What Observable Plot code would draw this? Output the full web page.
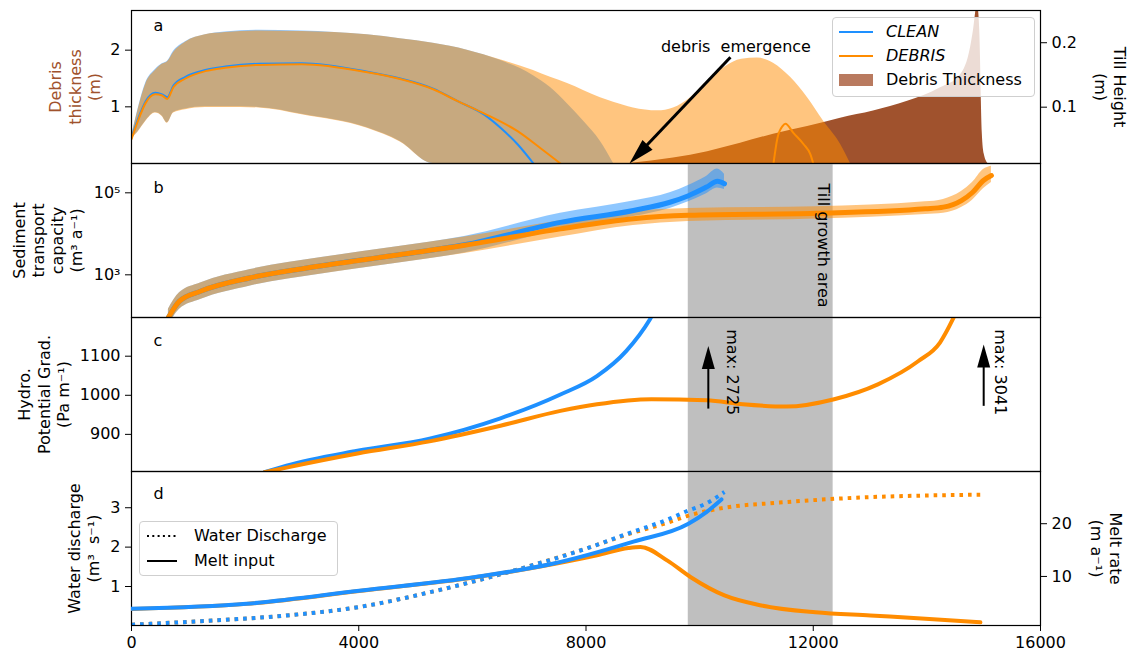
<!DOCTYPE html>
<html><head><meta charset="utf-8">
<script src="https://cdn.jsdelivr.net/npm/d3@7"></script>
<script src="https://cdn.jsdelivr.net/npm/@observablehq/plot@0.6"></script>
<style>
body{margin:0;background:#fff;font-family:"DejaVu Sans",sans-serif;}
#fig{position:relative;width:1132px;height:655px;overflow:hidden;background:#fff;}
.legend{position:absolute;background:rgba(255,255,255,0.8);border:1px solid #cfcfcf;border-radius:4px;font-size:16px;color:#000;z-index:10;}
.legend .row{position:absolute;left:0;height:20px;white-space:nowrap;}
.legend svg{position:absolute;top:0;}
.legend span{position:absolute;top:0;line-height:20px;}
</style></head><body><div id="fig"></div>
<script>
// ---------------- DATA ----------------
const xTicks = [0, 4000, 8000, 12000, 16000];

// panel a: debris thickness (m)
const cleanBandX = [0,120,250,420,540,630,740,950,1300,1650,2240,3000,4150,4730,5310,5910,6490,7075,7375,7675,7955,8255,8485];
const cleanLo = [0.45,0.57,0.75,0.9,0.84,0.72,0.9,0.96,1.0,1.0,0.99,0.87,0.63,0.39,0,0,0,0,0,0,0,0,0];
const cleanHi = [0.47,0.98,1.42,1.66,1.76,1.80,1.98,2.15,2.27,2.32,2.35,2.34,2.27,2.2,2.12,2.0,1.82,1.55,1.34,1.05,0.75,0.39,0];
const debrisBandX = [0,120,250,420,540,630,740,950,1300,1650,2240,3000,4150,4730,5310,5910,6490,7075,7375,7675,7955,8255,8485,8835,9260,9540,9840,10140,10440,10740,11020,11300,11600,11900,12180,12480,12655];
const debrisLo = [0.44,0.56,0.74,0.89,0.83,0.71,0.89,0.95,0.99,0.99,0.98,0.86,0.62,0.38,0,0,0,0,0,0,0,0,0,0,0,0,0,0,0,0,0,0,0,0,0,0,0];
const debrisHi = [0.46,0.96,1.4,1.64,1.75,1.79,1.96,2.14,2.27,2.31,2.34,2.33,2.27,2.2,2.12,2.0,1.83,1.64,1.52,1.41,1.29,1.16,1.08,0.98,0.93,0.98,1.16,1.46,1.7,1.84,1.86,1.77,1.52,1.16,0.75,0.34,0];
const cleanMeanX = [0,120,250,420,540,630,740,950,1300,1650,2240,3000,4150,4730,5310,5740,6195,6495,6795,7075];
const cleanMean = [0.45,0.8,1.1,1.25,1.22,1.17,1.38,1.53,1.65,1.71,1.76,1.77,1.62,1.5,1.32,1.1,0.87,0.63,0.34,0];
const debrisMeanX = [0,120,250,420,540,630,740,950,1300,1650,2240,3000,4150,4730,5310,5740,6195,6795,7200,7550,9500,11300,11370,11460,11510,11650,11830,11950,12000];
const debrisMean = [0.43,0.77,1.07,1.22,1.2,1.14,1.35,1.5,1.63,1.69,1.74,1.75,1.61,1.49,1.31,1.1,0.89,0.57,0.27,0,NaN,0,0.45,0.66,0.7,0.54,0.34,0.16,0];
// till height (m), right axis of panel a
const tillX = [8765,9540,10140,10720,11300,11900,12480,13060,13660,14240,14590,14770,14820,14890,14930,14975,15010,15080];
const tillH = [0.0126,0.021,0.031,0.044,0.058,0.070,0.083,0.094,0.109,0.13,0.15,0.193,0.219,0.26,0.22,0.06,0.027,0.012];
const debrisTicks = [1, 2];
const tillTicks = [0.1, 0.2];
const emergence = {tipX: 8765, tipY: 0, shaftX: 8886, shaftY: 0.128, tailX: 10542, tailY: 1.875, textX: 10639, textY: 2.05, text: "debris\u00a0 emergence"};

// panel b: sediment transport capacity (m3 a-1)
const sedDebrisX = [650,845,1214,2094,3344,4611,5861,7550,8835,9803,12047,13974,14291,14608,14802,14995,15136];
const sedDebris = [91,229,398,851,1660,2950,5250,13200,23400,28200,31600,40700,44700,64600,102000,200000,263000];
const sedDebrisLo = [57.5,145,251,537,1047,1862,3311,8318,15849,19953,22909,29512,31623,43652,66069,125893,177828];
const sedDebrisHi = [145,363,631,1349,2630,4677,8318,20893,35481,41687,45709,60256,69183,107152,177828,371535,446684];
const sedCleanX = [650,845,1214,2094,3344,4611,5861,7550,8835,9478,9803,10120,10314,10437];
const sedClean = [91,229,398,851,1660,2950,5400,19055,37154,58884,85114,138038,190546,165959];
const sedCleanLo = [57.5,145,251,537,1047,1862,3400,12589,26303,41687,60256,95499,131826,120226];
const sedCleanHi = [145,363,631,1349,2630,4677,8600,31623,63096,100000,151356,251189,380189,281838];
const sedTicks = [1e3, 1e5];
const sedTickLabels = ["10\u00b3", "10\u2075"];
const tillArea = {x1: 9800, x2: 12350, label: "Till growth area", labelX: 12176, labelY: 169000};

// panel c: hydraulic potential gradient (Pa m-1)
const hpCleanX = [2341,2728,3978,5245,6494,7550,8193,8707,9124,9300];
const hpClean = [803,820,858,889,941,1002,1049,1113,1194,1240];
const hpDebrisX = [2341,2728,3978,5245,6494,7550,8193,9152,10120,10762,11528,12368,13138,13846,14231,14455,14600];
const hpDebris = [803,815,851,882,922,960,977,990,987,977,971,990,1028,1087,1135,1194,1240];
const hpTicks = [900, 1000, 1100];
const maxNotes = [
  {x: 10153, y1: 966, y2: 1100, tip: 1126, tx: 10568, ty: 1169, label: "max: 2725"},
  {x: 15000, y1: 973, y2: 1104, tip: 1130, tx: 15291, ty: 1169, label: "max: 3041"}
];

// panel d: water discharge (m3 s-1, dotted) and melt rate (m a-1, solid)
const qCleanX = [0,1338,2693,4048,5386,6741,8078,8747,9434,9803,10102,10437];
const qClean = [0.03,0.13,0.26,0.49,0.9,1.41,2.0,2.35,2.7,2.93,3.1,3.4];
const qDebrisX = [0,1338,2693,4048,5386,6741,8078,8747,9434,9803,10437,11405,12690,13974,14942];
const qDebris = [0.03,0.13,0.26,0.49,0.9,1.41,2.0,2.33,2.62,2.8,3.0,3.13,3.25,3.31,3.33];
const meltCleanX = [0,2024,4048,6054,7410,8835,9803,10120,10384];
const meltClean = [3.87,4.82,7.34,9.9,12.4,16.6,20.0,22.2,24.6];
const meltDebrisX = [0,2024,4048,6054,7410,8193,8747,8958,9434,9838,10437,11087,12038,13006,13974,14942];
const meltDebris = [3.85,4.8,7.3,9.85,12.3,14.0,15.4,15.6,13.0,9.9,6.4,4.5,3.2,2.6,2.0,1.3];
const qTicks = [1, 2, 3];
const meltTicks = [10, 20];

// ---------------- STYLE ----------------
const BLUE = "#1e90ff", ORANGE = "#ff8c00", SIENNA = "#a0522d", GREY = "#bfbfbf";
const fig = document.getElementById("fig");
const xDomain = [0, 16000];
function mount(svg, top, z) {
  const d = document.createElement("div");
  d.style.cssText = `position:absolute;left:0;top:${top}px;z-index:${z};`;
  d.appendChild(svg); fig.appendChild(d);
}
const base = (h, extra = 0) => ({
  width: 1132, height: h + 20 + extra, marginLeft: 131, marginRight: 92, marginTop: 10, marginBottom: 10 + extra,
  style: {background: "transparent", fontFamily: "'DejaVu Sans', sans-serif", fontSize: "16px", color: "#000", overflow: "visible"}
});
const zip = (xs, ys) => xs.map((x, i) => ({x, y: ys[i]}));
const band = (xs, lo, hi) => xs.map((x, i) => ({x, lo: lo[i], hi: hi[i]}));
const head = (L, W) => ({draw(ctx) { ctx.moveTo(0, 0); ctx.lineTo(W / 2, L); ctx.lineTo(-W / 2, L); ctx.closePath(); }});
const ylabel = (text, dx, rotate, fill = "black", anchor = "left") =>
  Plot.text([text], {text: d => d, frameAnchor: anchor, dx, rotate, textAnchor: "middle", lineAnchor: "middle", lineHeight: 1.2, fontSize: 16, fill});
const letter = (t, dy) => Plot.text([t], {text: d => d, frameAnchor: "top-left", dx: 22, dy, lineAnchor: "middle", textAnchor: "start", fontSize: 16});
const fmt = d => String(d);
const C = "monotone-x";
const DOT = {strokeDasharray: "3.6,5", strokeLinecap: "butt", strokeLinejoin: "miter"};

// ---------------- PANEL A ----------------
const aTill = Plot.plot({
  ...base(153),
  x: {domain: xDomain, axis: null},
  y: {domain: [0.0126, 0.25]},
  marks: [
    Plot.areaY(zip(tillX, tillH), {x: "x", y: "y", fill: SIENNA, curve: C, clip: true}),
    Plot.axisY({anchor: "right", ticks: tillTicks, tickFormat: d => d.toFixed(1), tickSize: 6, tickPadding: 5, label: null}),
    ylabel("Till Height\n(m)", 70, 90, "black", "right")
  ]
});
mount(aTill, 0, 1);

const aMain = Plot.plot({
  ...base(153),
  x: {domain: xDomain, axis: null},
  y: {domain: [0, 2.7]},
  marks: [
    Plot.areaY(band(cleanBandX, cleanLo, cleanHi), {x: "x", y1: "lo", y2: "hi", fill: BLUE, fillOpacity: 0.5, curve: C, clip: true}),
    Plot.areaY(band(debrisBandX, debrisLo, debrisHi), {x: "x", y1: "lo", y2: "hi", fill: ORANGE, fillOpacity: 0.5, curve: C, clip: true}),
    Plot.line(zip(cleanMeanX, cleanMean), {x: "x", y: "y", stroke: BLUE, strokeWidth: 2, curve: C, clip: true}),
    Plot.line(zip(debrisMeanX, debrisMean), {x: "x", y: "y", stroke: ORANGE, strokeWidth: 2, curve: C, clip: true}),
    Plot.link([emergence], {x1: "tailX", y1: "tailY", x2: "shaftX", y2: "shaftY", stroke: "black", strokeWidth: 3}),
    Plot.dot([emergence], {x: "tipX", y: "tipY", r: 5, symbol: head(26, 14), fill: "black", stroke: "none", rotate: -136}),
    Plot.text([emergence], {x: "textX", y: "textY", text: "text", fontSize: 16}),
    Plot.frame({stroke: "black", strokeWidth: 1.2}),
    Plot.axisY({anchor: "left", ticks: debrisTicks, tickFormat: fmt, tickSize: 6, tickPadding: 5, label: null}),
    letter("a", 15),
    ylabel("Debris\nthickness\n(m)", -57, -90, SIENNA)
  ]
});
mount(aMain, 0, 2);

// ---------------- PANEL B ----------------
const bMain = Plot.plot({
  ...base(154),
  x: {domain: xDomain, axis: null},
  y: {type: "log", domain: [91, 519000]},
  marks: [
    Plot.rect([tillArea], {x1: "x1", x2: "x2", fill: GREY}),
    Plot.areaY(band(sedCleanX, sedCleanLo, sedCleanHi), {x: "x", y1: "lo", y2: "hi", fill: BLUE, fillOpacity: 0.5, curve: C, clip: true}),
    Plot.areaY(band(sedDebrisX, sedDebrisLo, sedDebrisHi), {x: "x", y1: "lo", y2: "hi", fill: ORANGE, fillOpacity: 0.5, curve: C, clip: true}),
    Plot.line(zip(sedCleanX, sedClean), {x: "x", y: "y", stroke: BLUE, strokeWidth: 5, curve: C, clip: true}),
    Plot.line(zip(sedDebrisX, sedDebris), {x: "x", y: "y", stroke: ORANGE, strokeWidth: 5, curve: C, clip: true}),
    Plot.text([tillArea], {x: "labelX", y: "labelY", text: "label", rotate: 90, textAnchor: "start", fontSize: 16}),
    Plot.frame({stroke: "black", strokeWidth: 1.2}),
    Plot.axisY({anchor: "left", ticks: sedTicks, tickFormat: d => sedTickLabels[sedTicks.indexOf(d)], tickSize: 6, tickPadding: 5, label: null}),
    letter("b", 24),
    ylabel("Sediment\ntransport\ncapacity\n(m\u00b3 a\u207b\u00b9)", -84, -90)
  ]
});
mount(bMain, 153, 3);

// ---------------- PANEL C ----------------
const cMain = Plot.plot({
  ...base(154),
  x: {domain: xDomain, axis: null},
  y: {domain: [805, 1199]},
  marks: [
    Plot.rect([tillArea], {x1: "x1", x2: "x2", fill: GREY}),
    Plot.line(zip(hpCleanX, hpClean), {x: "x", y: "y", stroke: BLUE, strokeWidth: 4, curve: C, clip: true}),
    Plot.line(zip(hpDebrisX, hpDebris), {x: "x", y: "y", stroke: ORANGE, strokeWidth: 4, curve: C, clip: true}),
    Plot.link(maxNotes, {x1: "x", x2: "x", y1: "y1", y2: "y2", stroke: "black", strokeWidth: 2}),
    Plot.dot(maxNotes, {x: "x", y: "tip", r: 5, symbol: head(23, 13), fill: "black", stroke: "none"}),
    Plot.text(maxNotes, {x: "tx", y: "ty", text: "label", rotate: 90, textAnchor: "start", fontSize: 16}),
    Plot.frame({stroke: "black", strokeWidth: 1.2}),
    Plot.axisY({anchor: "left", ticks: hpTicks, tickFormat: fmt, tickSize: 6, tickPadding: 5, label: null}),
    letter("c", 23),
    ylabel("Hydro.\nPotential Grad.\n(Pa m\u207b\u00b9)", -88, -90)
  ]
});
mount(cMain, 307, 4);

// ---------------- PANEL D ----------------
const dMain = Plot.plot({
  ...base(154, 30),
  x: {domain: xDomain},
  y: {domain: [0.01, 3.92]},
  marks: [
    Plot.rect([tillArea], {x1: "x1", x2: "x2", fill: GREY}),
    Plot.line(zip(qDebrisX, qDebris), {x: "x", y: "y", stroke: ORANGE, strokeWidth: 4, ...DOT, curve: C, clip: true}),
    Plot.line(zip(qCleanX, qClean), {x: "x", y: "y", stroke: BLUE, strokeWidth: 4, ...DOT, curve: C, clip: true}),
    Plot.frame({stroke: "black", strokeWidth: 1.2}),
    Plot.axisY({anchor: "left", ticks: qTicks, tickFormat: fmt, tickSize: 6, tickPadding: 5, label: null}),
    Plot.axisX({anchor: "bottom", ticks: xTicks, tickFormat: fmt, tickSize: 6, tickPadding: 5, label: null}),
    letter("d", 22),
    ylabel("Water discharge\n(m\u00b3 \u00a0s\u207b\u00b9)", -48, -90)
  ]
});
mount(dMain, 461, 5);

const dMelt = Plot.plot({
  ...base(154, 30),
  x: {domain: xDomain, axis: null},
  y: {domain: [0.7, 29.9]},
  marks: [
    Plot.line(zip(meltDebrisX, meltDebris), {x: "x", y: "y", stroke: ORANGE, strokeWidth: 4, curve: C, clip: true}),
    Plot.line(zip(meltCleanX, meltClean), {x: "x", y: "y", stroke: BLUE, strokeWidth: 4, curve: C, clip: true}),
    Plot.axisY({anchor: "right", ticks: meltTicks, tickFormat: fmt, tickSize: 6, tickPadding: 5, label: null}),
    ylabel("Melt rate\n(m a\u207b\u00b9)", 66, 90, "black", "right")
  ]
});
mount(dMelt, 461, 6);

// ---------------- LEGENDS ----------------
function legend(left, top, w, h, items) {
  const box = document.createElement("div");
  box.className = "legend";
  box.style.cssText += `left:${left}px;top:${top}px;width:${w}px;height:${h}px;`;
  for (const it of items) {
    const row = document.createElement("div");
    row.className = "row";
    row.style.top = (it.cy - 10) + "px";
    row.innerHTML = `<svg width="${it.sx + it.sw + 4}" height="20" style="left:0">${it.sample}</svg><span style="left:${it.tx}px;${it.italic ? "font-style:italic;" : ""}">${it.label}</span>`;
    box.appendChild(row);
  }
  fig.appendChild(box);
}
legend(832, 17, 201, 78, [
  {cy: 14, sx: 6, sw: 34, tx: 53, italic: true, label: "CLEAN", sample: `<line x1="6" x2="40" y1="10" y2="10" stroke="${BLUE}" stroke-width="2"/>`},
  {cy: 38, sx: 6, sw: 34, tx: 53, italic: true, label: "DEBRIS", sample: `<line x1="6" x2="40" y1="10" y2="10" stroke="${ORANGE}" stroke-width="2"/>`},
  {cy: 62, sx: 6, sw: 34, tx: 53, italic: false, label: "Debris Thickness", sample: `<rect x="6" y="4" width="34" height="12" fill="#b97a5f"/>`}
]);
legend(139, 521, 197, 53, [
  {cy: 14, sx: 7, sw: 30, tx: 54, italic: false, label: "Water Discharge", sample: `<line x1="7" x2="37" y1="10" y2="10" stroke="black" stroke-width="2" stroke-dasharray="2,3.3"/>`},
  {cy: 39, sx: 7, sw: 30, tx: 54, italic: false, label: "Melt input", sample: `<line x1="7" x2="37" y1="10" y2="10" stroke="black" stroke-width="2"/>`}
]);
</script></body></html>
